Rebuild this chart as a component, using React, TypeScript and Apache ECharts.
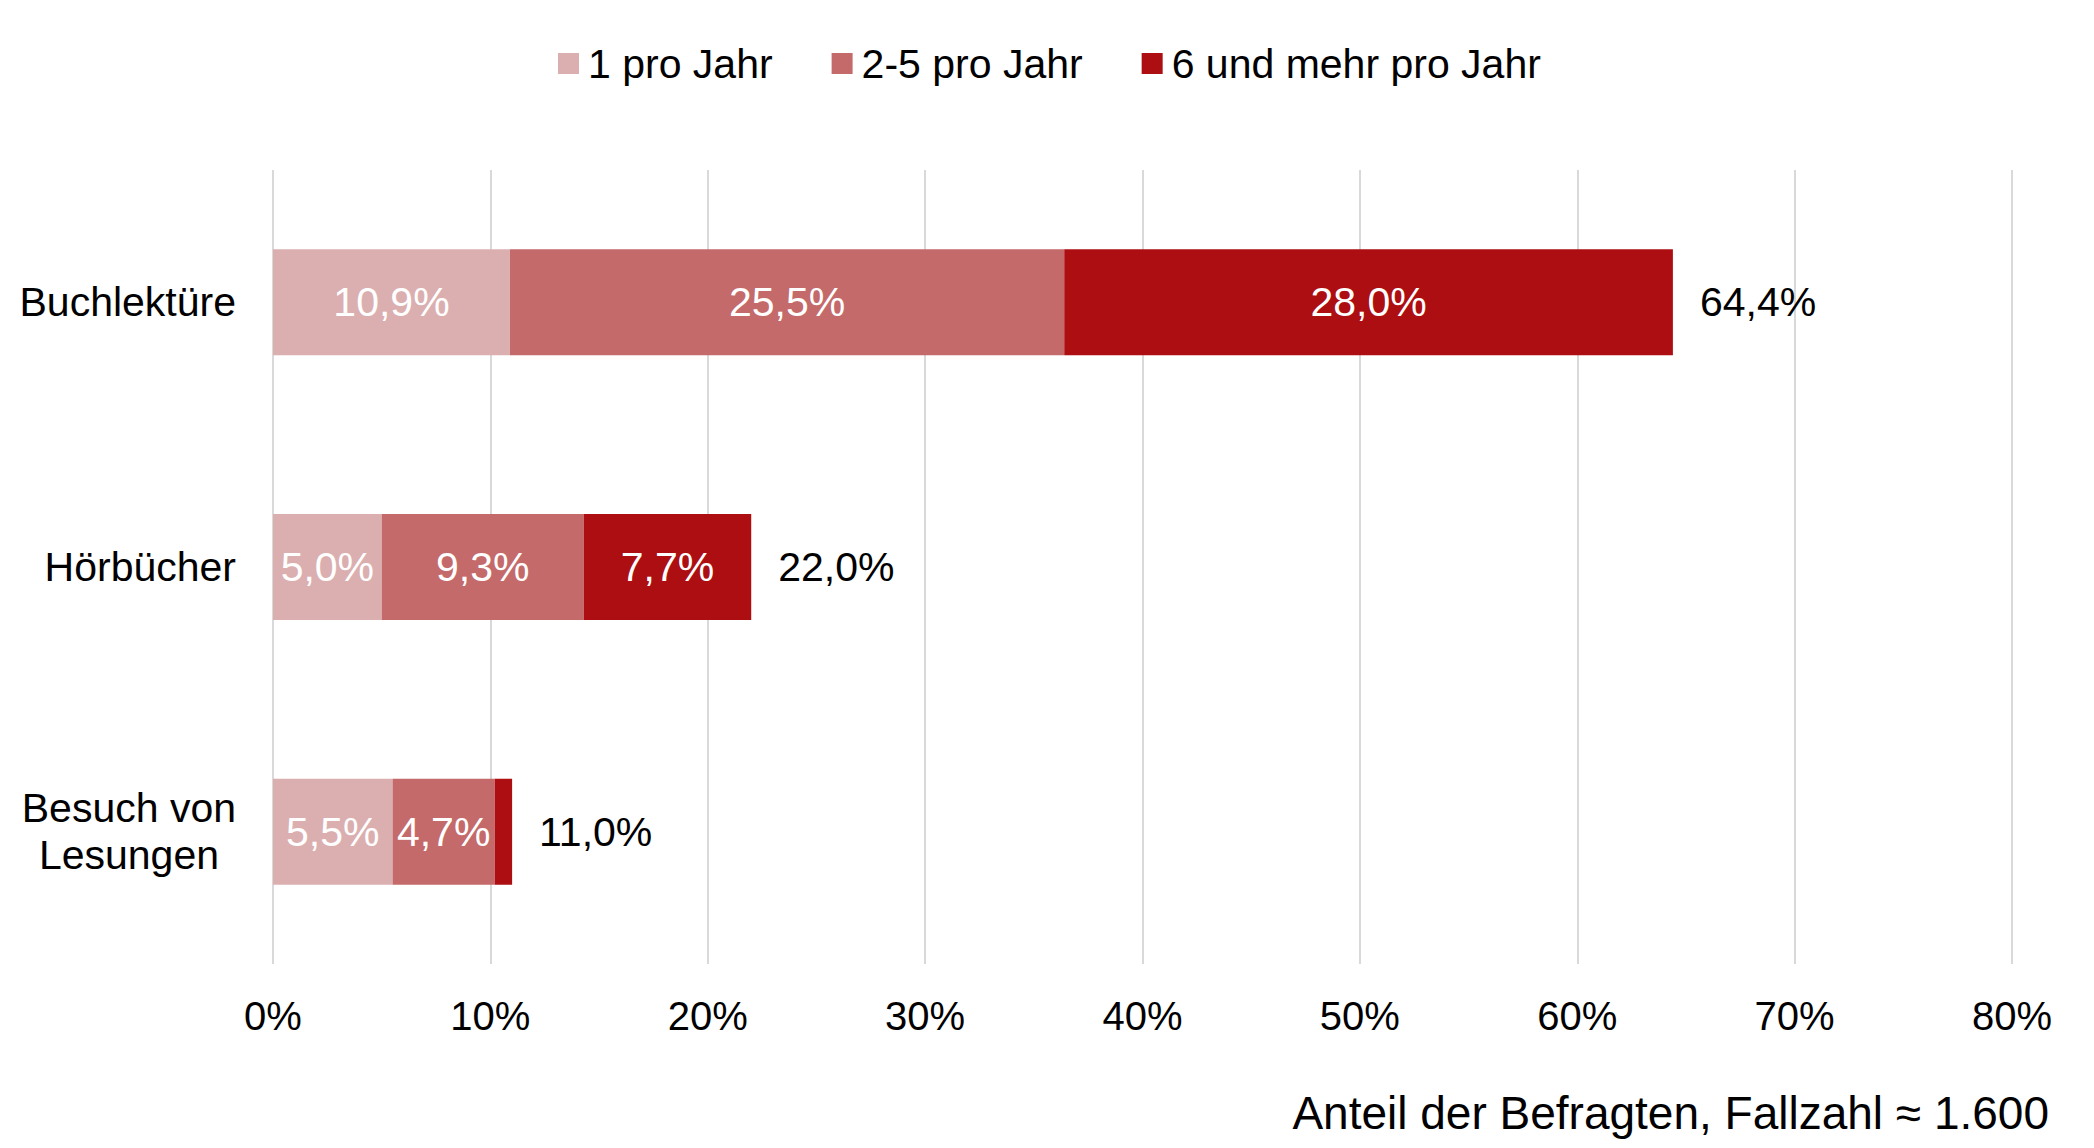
import React, { useEffect, useRef } from "react";
import * as echarts from "echarts";

const categories = ["Buchlektüre", "Hörbücher", "Besuch von\nLesungen"];
const seriesNames = ["1 pro Jahr", "2-5 pro Jahr", "6 und mehr pro Jahr"];
const onePerYear = [10.9, 5.0, 5.5];
const twoToFive = [25.5, 9.3, 4.7];
const sixAndMore = [28.0, 7.7, 0.8];
const totals = [64.4, 22.0, 11.0];
const xTicks = [0, 10, 20, 30, 40, 50, 60, 70, 80];
const axisNote = "Anteil der Befragten, Fallzahl ≈ 1.600";

const colors = ["#DBAFB0", "#C46A6A", "#AD0E11"];
const FONT = "Liberation Sans, Arial, sans-serif";

const fmt = (v: number) => v.toFixed(1).replace(".", ",") + "%";

export default function App() {
  const ref = useRef<HTMLDivElement>(null);
  useEffect(() => {
    if (!ref.current) return;
    const chart = echarts.init(ref.current, undefined, { renderer: "svg" });
    const values = [onePerYear, twoToFive, sixAndMore];
    const series: any[] = values.map((arr, i) => ({
      name: seriesNames[i],
      type: "bar",
      stack: "total",
      barWidth: 106,
      data: arr,
      itemStyle: { color: colors[i] },
      label: {
        show: true,
        position: "inside",
        color: "#fff",
        fontSize: 41,
        fontFamily: FONT,
        formatter: (p: any) => (p.value < 2 ? "" : fmt(p.value)),
      },
    }));
    series.push({
      name: "Gesamt",
      type: "bar",
      stack: "total",
      barWidth: 106,
      data: totals.map(() => 0),
      itemStyle: { color: "transparent" },
      label: {
        show: true,
        position: "right",
        distance: 27,
        color: "#000",
        fontSize: 41,
        fontFamily: FONT,
        formatter: (p: any) => fmt(totals[p.dataIndex]),
      },
    });
    chart.setOption({
      animation: false,
      textStyle: { fontFamily: FONT },
      legend: {
        data: seriesNames,
        left: 553,
        top: 38,
        itemWidth: 21,
        itemHeight: 21,
        itemGap: 59,
        icon: "rect",
        textStyle: {
          fontSize: 41,
          color: "#000",
          fontFamily: FONT,
          lineHeight: 41,
          padding: [0, 0, 0, 4],
        },
      },
      grid: { left: 273, right: 82, top: 170, bottom: 184, containLabel: false },
      xAxis: {
        type: "value",
        min: xTicks[0],
        max: xTicks[xTicks.length - 1],
        interval: 10,
        axisLine: { show: false },
        axisTick: { show: false },
        splitLine: { show: true, lineStyle: { color: "#D9D9D9", width: 2 } },
        axisLabel: {
          formatter: "{value}%",
          fontSize: 40,
          color: "#000",
          fontFamily: FONT,
          margin: 32,
        },
      },
      yAxis: {
        type: "category",
        inverse: true,
        data: categories,
        axisLine: { show: false },
        axisTick: { show: false },
        axisLabel: {
          fontSize: 41,
          color: "#000",
          fontFamily: FONT,
          margin: 37,
          lineHeight: 47,
          formatter: (v: string) => {
            const lines = v.split("\n");
            if (lines.length === 1) return v;
            return lines
              .map((l, i) => (i === 0 ? `{a|${l}}` : `{b|${l}}`))
              .join("\n");
          },
          rich: {
            a: { fontSize: 41, lineHeight: 47, color: "#000", fontFamily: FONT },
            b: {
              fontSize: 41,
              lineHeight: 47,
              color: "#000",
              fontFamily: FONT,
              padding: [0, 17, 0, 0],
            },
          },
        },
      },
      graphic: [
        {
          type: "text",
          right: 45,
          top: 1090,
          style: {
            text: axisNote,
            fontSize: 46,
            fill: "#000",
            fontFamily: FONT,
          },
        },
      ],
      series,
    });
    return () => chart.dispose();
  }, []);
  return (
    <div
      ref={ref}
      style={{ position: "fixed", left: 0, top: 0, width: 2094, height: 1148, background: "#fff" }}
    />
  );
}
